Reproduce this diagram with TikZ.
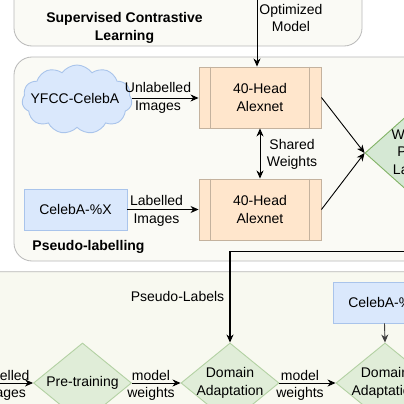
\documentclass[tikz,border=0pt]{standalone}
\usepackage{fontspec}
\setmainfont{Liberation Sans}
\usetikzlibrary{shapes.geometric,shapes.symbols,arrows.meta}
\definecolor{contfill}{HTML}{FAFAF5}
\definecolor{contdraw}{HTML}{B8B8B8}
\definecolor{botfill}{HTML}{F8F9F0}
\definecolor{bluefill}{HTML}{DAE8FC}
\definecolor{bluedraw}{HTML}{A9C4EB}
\definecolor{orfill}{HTML}{FFE6CC}
\definecolor{ordraw}{HTML}{C4B29E}
\definecolor{grfill}{HTML}{D5E8D4}
\definecolor{grdraw}{HTML}{82B366}
\definecolor{grfilltwo}{HTML}{E0EDD8}
\definecolor{grdrawtwo}{HTML}{B3D1A3}
\tikzset{
  every node/.style={font=\fontsize{14}{17.5}\selectfont, inner sep=0pt},
  container/.style={draw=contdraw, line width=0.8pt, rounded corners=18pt},
  bluebox/.style={draw=bluedraw, fill=bluefill, line width=0.9pt, minimum width=103pt, minimum height=41pt},
  alexbox/.style={draw=ordraw, fill=orfill, line width=0.9pt, minimum width=122pt, minimum height=61pt, align=center},
  decision/.style={diamond, draw=grdrawtwo, fill=grfilltwo, line width=0.9pt, inner sep=-8pt, minimum width=98pt, minimum height=80pt, align=center},
  bigdecision/.style={diamond, draw=grdraw, fill=grfill, line width=0.9pt, inner sep=-8pt, minimum width=112pt, minimum height=100pt, align=center},
  lbl/.style={align=center},
  boldlbl/.style={font=\fontsize{14}{18}\selectfont\bfseries, align=center},
  arr/.style={-{Stealth[length=8pt,width=7pt,inset=2.5pt]}, line width=0.9pt},
  dblarr/.style={{Stealth[length=8pt,width=7pt,inset=2.5pt]}-{Stealth[length=8pt,width=7pt,inset=2.5pt]}, line width=0.9pt},
}
\begin{document}
\begin{tikzpicture}[x=1pt,y=-1pt]
\useasboundingbox (0,0) rectangle (404,404);
\clip (0,0) rectangle (404,404);
% containers
\draw[container, fill=contfill] (14,-40) rectangle (362,46);
\draw[container, fill=contfill] (14,57) rectangle (460,261);
\draw[container, fill=botfill] (-40,271.7) rectangle (460,460);
% titles
\node[boldlbl] (sclt) at (124.5,28) {Supervised Contrastive\\Learning};
\node[boldlbl] (pslt) at (88.5,246.5) {Pseudo-labelling};
% nodes
\node[cloud, cloud puffs=11, cloud puff arc=110, draw=bluedraw, fill=bluefill, line width=0.9pt, minimum width=110pt, minimum height=69pt] (yfcc) at (77,99.5) {};
\node (yfcct) at (75,98) {YFCC-CelebA};
\node[bluebox] (celeb) at (75.5,209.5) {CelebA-\%X};
\node[alexbox] (alex1) at (260,97.5) {40-Head\\Alexnet};
\node[alexbox] (alex2) at (260,209.5) {40-Head\\Alexnet};
\foreach \n in {alex1,alex2}{
  \draw[ordraw, line width=0.9pt] ([xshift=12pt]\n.north west) -- ([xshift=12pt]\n.south west);
  \draw[ordraw, line width=0.9pt] ([xshift=-12pt]\n.north east) -- ([xshift=-12pt]\n.south east);
}
\node[bigdecision] (wpl) at (421,153) {Weighted\\Pseudo\\Labelling};
\node[decision] (pre) at (82.5,383) {Pre-training};
\node[decision] (da1) at (230,383) {Domain\\Adaptation};
\node[decision] (da2) at (385,383) {Domain\\Adaptation};
\node[bluebox] (celeb2) at (384.5,302.5) {CelebA-\%X};
% free ends
\coordinate (optsrc) at (257,-30);
\coordinate (leftsrc) at (-60,383);
\coordinate (plrow) at (0,251.7);
% connectors
\draw[arr] (optsrc) -- (optsrc |- alex1.north);
\draw[arr] ([yshift=1.5pt]yfcc.east) -- ([yshift=1.5pt]yfcc.east -| alex1.west);
\draw[arr] (celeb.east) -- (celeb.east -| alex2.west);
\draw[dblarr] (alex1.south) -- (alex2.north);
\draw[arr] (alex1.east) -- (wpl.west);
\draw[arr] (alex2.east) -- (wpl.west);
\draw[arr, line width=1.2pt] (wpl.south) |- (plrow -| da1.north) -- (da1.north);
\draw[arr] (leftsrc) -- (pre.west);
\draw[arr] (pre.east) -- (da1.west);
\draw[arr] (da1.east) -- (da2.west);
\draw[arr, draw=black!75, fill=black!75] (celeb2.south) -- (da2.north);
% labels
\node[lbl] (optl) at (291,18) {Optimized\\Model};
\node[lbl] (unl) at (158,98) {Unlabelled\\Images};
\node[lbl] (labl) at (156.5,211) {Labelled\\Images};
\node[lbl] (shw) at (292,154.5) {Shared\\Weights};
\node[lbl] (psl) at (177.5,296.7) {Pseudo-Labels};
\node[lbl] (labl2) at (3,385.5) {Labelled\\Images};
\node[lbl] (mw1) at (151,385.5) {model\\weights};
\node[lbl] (mw2) at (300,385.5) {model\\weights};
\end{tikzpicture}
\end{document}
